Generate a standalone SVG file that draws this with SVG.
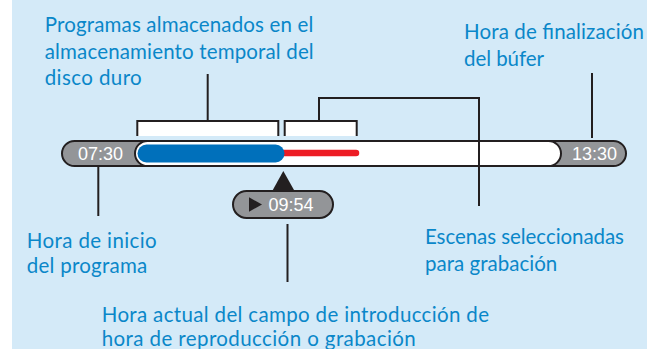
<svg xmlns="http://www.w3.org/2000/svg" width="647" height="349" viewBox="0 0 647 349">
<style>
.lbl{font-family:Lato,"Liberation Sans",sans-serif;font-size:20.5px;fill:#0a87c9}
.time{font-family:"Liberation Sans",Arial,sans-serif;font-size:18px;fill:#ffffff;text-anchor:middle}
.ln{stroke:#231f20;stroke-width:2;fill:none}
.pill{fill:#939598;stroke:#231f20;stroke-width:2}
.brk{fill:#ffffff;stroke:none}
</style>
<rect x="0" y="0" width="647" height="349" fill="#ffffff"/>
<rect x="12" y="0" width="635" height="349" fill="#d4eaf8"/>

<g id="timeline">
  <rect class="pill" x="62" y="141" width="564" height="25" rx="12.5"/>
  <rect x="135" y="141" width="426" height="25" rx="12.5" fill="#ffffff" stroke="#231f20" stroke-width="2"/>
  <line x1="284" y1="153" x2="356" y2="153" stroke="#ed1c24" stroke-width="6.5" stroke-linecap="round"/>
  <rect x="137.5" y="144.5" width="147" height="18" rx="9" fill="#0070bb"/>
  <text class="time" x="100.5" y="160">07:30</text>
  <text class="time" x="594.5" y="160">13:30</text>
</g>

<g id="bracket-stored">
  <rect class="brk" x="137.3" y="121" width="141" height="15"/>
  <path class="ln" d="M137.3,136 V121 H278.3 V136"/>
</g>
<g id="bracket-selected">
  <rect class="brk" x="284.7" y="121" width="72" height="15"/>
  <path class="ln" d="M284.7,136 V121 H356.7 V136"/>
</g>

<g id="playhead">
  <polygon points="283.3,171 272.8,190 294,190" fill="#231f20"/>
  <rect class="pill" x="233" y="191" width="100" height="27" rx="13.5"/>
  <polygon points="249,197.3 249,211.7 262,204.5" fill="#231f20"/>
  <text class="time" x="291" y="211">09:54</text>
</g>

<g id="connectors">
  <line class="ln" x1="207.7" y1="74" x2="207.7" y2="121"/>
  <path class="ln" d="M319,121 V98 H479 V206"/>
  <line class="ln" x1="592" y1="73" x2="592" y2="138"/>
  <line class="ln" x1="98.3" y1="166" x2="98.3" y2="216"/>
  <line class="ln" x1="287.5" y1="224" x2="287.5" y2="282"/>
</g>

<g id="label-stored">
  <text class="lbl" x="44.7" y="32" textLength="268.6" lengthAdjust="spacing">Programas almacenados en el</text>
  <text class="lbl" x="44.7" y="58.7" textLength="269" lengthAdjust="spacing">almacenamiento temporal del</text>
  <text class="lbl" x="44.7" y="85" textLength="97" lengthAdjust="spacing">disco duro</text>
</g>
<g id="label-end">
  <text class="lbl" x="464" y="39" textLength="180" lengthAdjust="spacing">Hora de finalización</text>
  <text class="lbl" x="464" y="65.5" textLength="80" lengthAdjust="spacing">del búfer</text>
</g>
<g id="label-start">
  <text class="lbl" x="26.7" y="247.7" textLength="130" lengthAdjust="spacing">Hora de inicio</text>
  <text class="lbl" x="26.7" y="272.7" textLength="120.6" lengthAdjust="spacing">del programa</text>
</g>
<g id="label-selected">
  <text class="lbl" x="425" y="244.3" textLength="199" lengthAdjust="spacing">Escenas seleccionadas</text>
  <text class="lbl" x="425" y="271" textLength="132.3" lengthAdjust="spacing">para grabación</text>
</g>
<g id="label-current">
  <text class="lbl" x="101.7" y="321.7" textLength="387.3" lengthAdjust="spacing">Hora actual del campo de introducción de</text>
  <text class="lbl" x="101.7" y="346" textLength="314" lengthAdjust="spacing">hora de reproducción o grabación</text>
</g>
</svg>
